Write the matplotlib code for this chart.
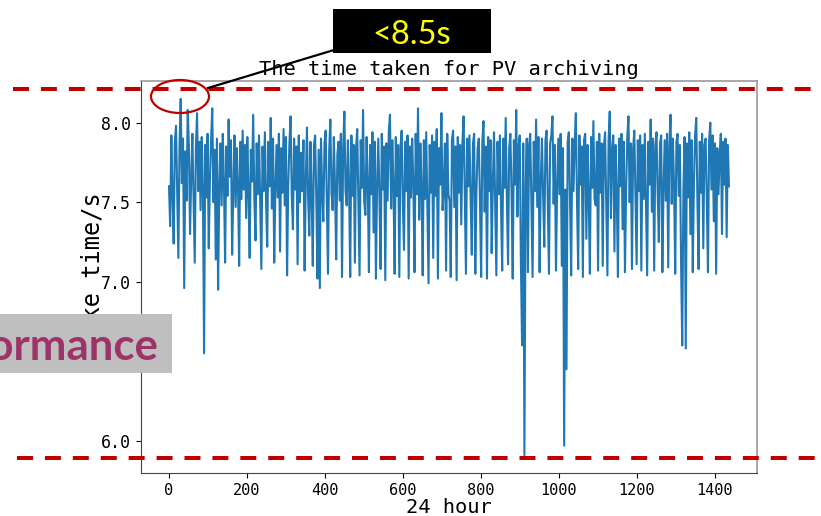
import numpy as np
import matplotlib
matplotlib.use("Agg")
import matplotlib.pyplot as plt
from matplotlib.lines import Line2D
from matplotlib.patches import Ellipse, Rectangle

# ---- data: archiving time (s), one value every 3 minutes over 24 hours ----
step_minutes = 3
take_time = [
    7.60, 7.35, 7.92, 7.55, 7.24, 7.88, 7.98, 7.58, 7.15, 7.85, 8.15, 7.62, 7.90, 6.96, 7.82, 7.51, 8.08, 7.86, 7.30, 7.66,
    7.93, 7.52, 7.12, 7.84, 8.06, 7.57, 7.88, 7.45, 7.91, 7.60, 6.55, 7.86, 7.53, 7.93, 7.21, 7.64, 7.89, 8.09, 7.50, 7.83,
    7.14, 7.90, 6.95, 7.59, 7.87, 7.48, 7.93, 7.62, 7.12, 7.85, 7.54, 8.02, 7.66, 7.89, 7.17, 7.57, 7.92, 7.47, 7.84, 7.61,
    7.10, 7.88, 7.52, 7.95, 7.58, 7.86, 7.40, 7.91, 7.56, 7.15, 7.83, 7.63, 8.05, 7.52, 7.26, 7.87, 7.55, 7.92, 7.49, 7.08,
    7.85, 7.57, 7.94, 7.51, 7.22, 7.88, 7.60, 8.03, 7.46, 7.90, 7.12, 7.59, 7.86, 7.53, 7.93, 7.19, 7.84, 7.56, 7.96, 7.48,
    7.91, 7.04, 7.61, 7.87, 8.04, 7.54, 7.33, 7.90, 7.58, 7.85, 7.11, 7.92, 7.50, 7.81, 7.57, 7.89, 7.07, 7.64, 7.97, 7.53,
    7.29, 7.88, 7.55, 7.10, 7.86, 7.92, 7.52, 7.02, 7.83, 6.96, 7.90, 7.58, 7.38, 7.87, 7.95, 7.49, 7.05, 7.82, 8.02, 7.56,
    7.45, 7.91, 7.60, 7.14, 7.80, 7.88, 7.51, 7.93, 7.03, 7.85, 8.07, 7.57, 7.48, 7.89, 7.62, 7.03, 7.92, 7.54, 7.86, 7.12,
    7.84, 7.96, 7.52, 7.04, 7.89, 7.59, 8.08, 7.50, 7.42, 7.91, 7.63, 7.06, 7.86, 7.55, 7.94, 7.31, 7.88, 7.02, 7.61, 7.90,
    7.53, 7.08, 7.93, 7.58, 7.85, 7.01, 7.87, 7.51, 7.94, 8.05, 7.46, 7.89, 7.60, 7.05, 7.91, 7.54, 7.86, 7.03, 7.84, 7.95,
    7.50, 7.20, 7.88, 7.57, 7.92, 7.02, 7.85, 7.53, 7.90, 7.62, 7.06, 7.93, 7.55, 8.09, 7.39, 7.87, 7.59, 7.04, 7.89, 7.52,
    7.94, 7.48, 6.99, 7.86, 7.56, 7.92, 7.15, 7.88, 7.54, 7.96, 7.02, 7.84, 7.61, 8.06, 7.45, 7.58, 7.87, 7.07, 7.93, 7.55,
    7.51, 7.03, 7.89, 7.95, 7.47, 7.85, 7.01, 7.91, 7.56, 7.86, 7.36, 7.88, 8.04, 7.53, 7.05, 7.90, 7.60, 7.92, 7.52, 7.17,
    7.87, 7.93, 7.05, 7.58, 7.84, 7.90, 7.50, 7.03, 7.88, 8.01, 7.44, 7.85, 7.02, 7.91, 7.57, 7.89, 7.18, 7.62, 7.94, 7.51,
    7.04, 7.88, 7.55, 7.92, 7.46, 7.07, 7.90, 7.59, 8.03, 7.52, 7.11, 7.84, 7.93, 7.56, 7.02, 7.89, 7.61, 8.08, 7.41, 7.85,
    7.92, 7.12, 6.60, 7.87, 5.91, 7.58, 7.90, 7.06, 7.86, 7.93, 7.50, 7.03, 7.88, 7.57, 8.02, 7.47, 7.91, 7.06, 7.63, 7.90,
    7.54, 7.22, 7.89, 7.95, 7.52, 7.05, 7.87, 7.92, 8.04, 7.49, 7.86, 7.07, 7.60, 7.90, 7.55, 7.93, 7.10, 7.84, 5.97, 7.58,
    6.45, 7.88, 7.94, 7.53, 7.04, 7.90, 7.57, 7.87, 8.06, 7.50, 7.08, 7.92, 7.61, 7.85, 7.03, 7.89, 7.93, 7.27, 7.86, 7.54,
    7.05, 7.91, 7.59, 8.01, 7.52, 7.48, 7.88, 7.07, 7.93, 7.56, 7.87, 7.10, 7.85, 7.94, 7.51, 7.04, 7.89, 8.07, 7.40, 7.83,
    7.92, 7.19, 7.86, 7.55, 7.03, 7.90, 7.60, 7.93, 7.33, 7.88, 7.06, 7.58, 7.91, 8.04, 7.50, 7.87, 7.08, 7.84, 7.95, 7.53,
    7.11, 7.89, 7.57, 7.92, 7.07, 7.86, 7.52, 7.93, 7.48, 7.04, 7.88, 7.61, 8.02, 7.44, 7.90, 7.07, 7.85, 7.94, 7.55, 7.25,
    7.87, 7.92, 7.06, 7.58, 7.89, 7.51, 7.93, 7.09, 7.86, 8.05, 7.49, 7.90, 7.60, 7.05, 7.88, 7.93, 7.54, 7.86, 7.12, 6.60,
    7.57, 7.91, 6.58, 7.87, 7.53, 7.94, 7.30, 7.89, 7.06, 7.62, 7.92, 8.03, 7.50, 7.08, 7.88, 7.56, 7.93, 7.21, 7.86, 7.90,
    7.52, 7.06, 7.89, 8.00, 7.58, 7.92, 7.38, 7.87, 7.05, 7.84, 7.55, 7.79, 7.93, 7.30, 7.88, 7.61, 7.90, 7.28, 7.86, 7.60,
]
minutes = np.arange(len(take_time)) * step_minutes

title_text = "The time taken for PV archiving"
xlabel_text = "24 hour"
ylabel_text = "Take time/s"
callout_text = "<8.5s"
banner_text = "Performance"

# ---- figure ----
W, H = 821, 516
fig = plt.figure(figsize=(W / 100, H / 100), dpi=100)

def fx(px):
    return px / W

def fy(py):
    return 1 - py / H

mono = "DejaVu Sans Mono"
ax = fig.add_axes([fx(141), fy(473), fx(757) - fx(141), fy(81) - fy(473)])
ax.plot(minutes, take_time, color="#1f77b4", lw=1.5)
ax.set_yticks([6.0, 6.5, 7.0, 7.5, 8.0])
ax.set_title(title_text, fontfamily=mono, fontsize=14.7, pad=4)
ax.set_xlabel(xlabel_text, fontfamily=mono, fontsize=14.7, labelpad=0)
ax.set_ylabel(ylabel_text, fontfamily=mono, fontsize=17, labelpad=-2)
ax.yaxis.label.set_y(0.515)
for lab in ax.get_yticklabels():
    lab.set_fontfamily(mono)
    lab.set_fontsize(12)
for lab in ax.get_xticklabels():
    lab.set_fontfamily(mono)
    lab.set_fontsize(11)
for side in ["left", "bottom"]:
    ax.spines[side].set_color("#444444")
for side in ["top", "right"]:
    ax.spines[side].set_color("#999999")
    ax.spines[side].set_linewidth(1.2)

# ---- slide overlays ----
red = "#C00000"
lw_pt = 2.9
dash = (0, (11.5 / lw_pt, 8.6 / lw_pt))
for x0, x1, yy in [(13, 812, 89), (17, 815, 458)]:
    fig.add_artist(Line2D([fx(x0), fx(x1)], [fy(yy), fy(yy)], transform=fig.transFigure,
                          color=red, lw=lw_pt, linestyle=dash, solid_capstyle="butt",
                          dash_capstyle="butt", zorder=5))

fig.add_artist(Ellipse((fx(180), fy(96.5)), width=58 / W, height=33 / H,
                       transform=fig.transFigure, fill=False, edgecolor=red, lw=1.6, zorder=6))
fig.add_artist(Line2D([fx(208), fx(334)], [fy(88), fy(50)], transform=fig.transFigure,
                      color="black", lw=1.6, zorder=6))
fig.add_artist(Rectangle((fx(333), fy(53.3)), (490.7 - 333) / W, (53.3 - 9.3) / H,
                         transform=fig.transFigure, facecolor="black", edgecolor="none", zorder=6))
fig.text(fx(412), fy(44.5), callout_text, color="#FFFF00", fontfamily="Lato", fontsize=23.5,
         ha="center", va="baseline", zorder=7)

fig.add_artist(Rectangle((0, fy(372.7)), 172 / W, (372.7 - 314) / H,
                         transform=fig.transFigure, facecolor="#BFBFBF", edgecolor="none", zorder=6))
fig.text(fx(158), fy(360), banner_text, color="#9E3369", fontfamily="Lato", fontweight="bold",
         fontsize=31.5, ha="right", va="baseline", zorder=7)

fig.savefig("out.png", dpi=100)
